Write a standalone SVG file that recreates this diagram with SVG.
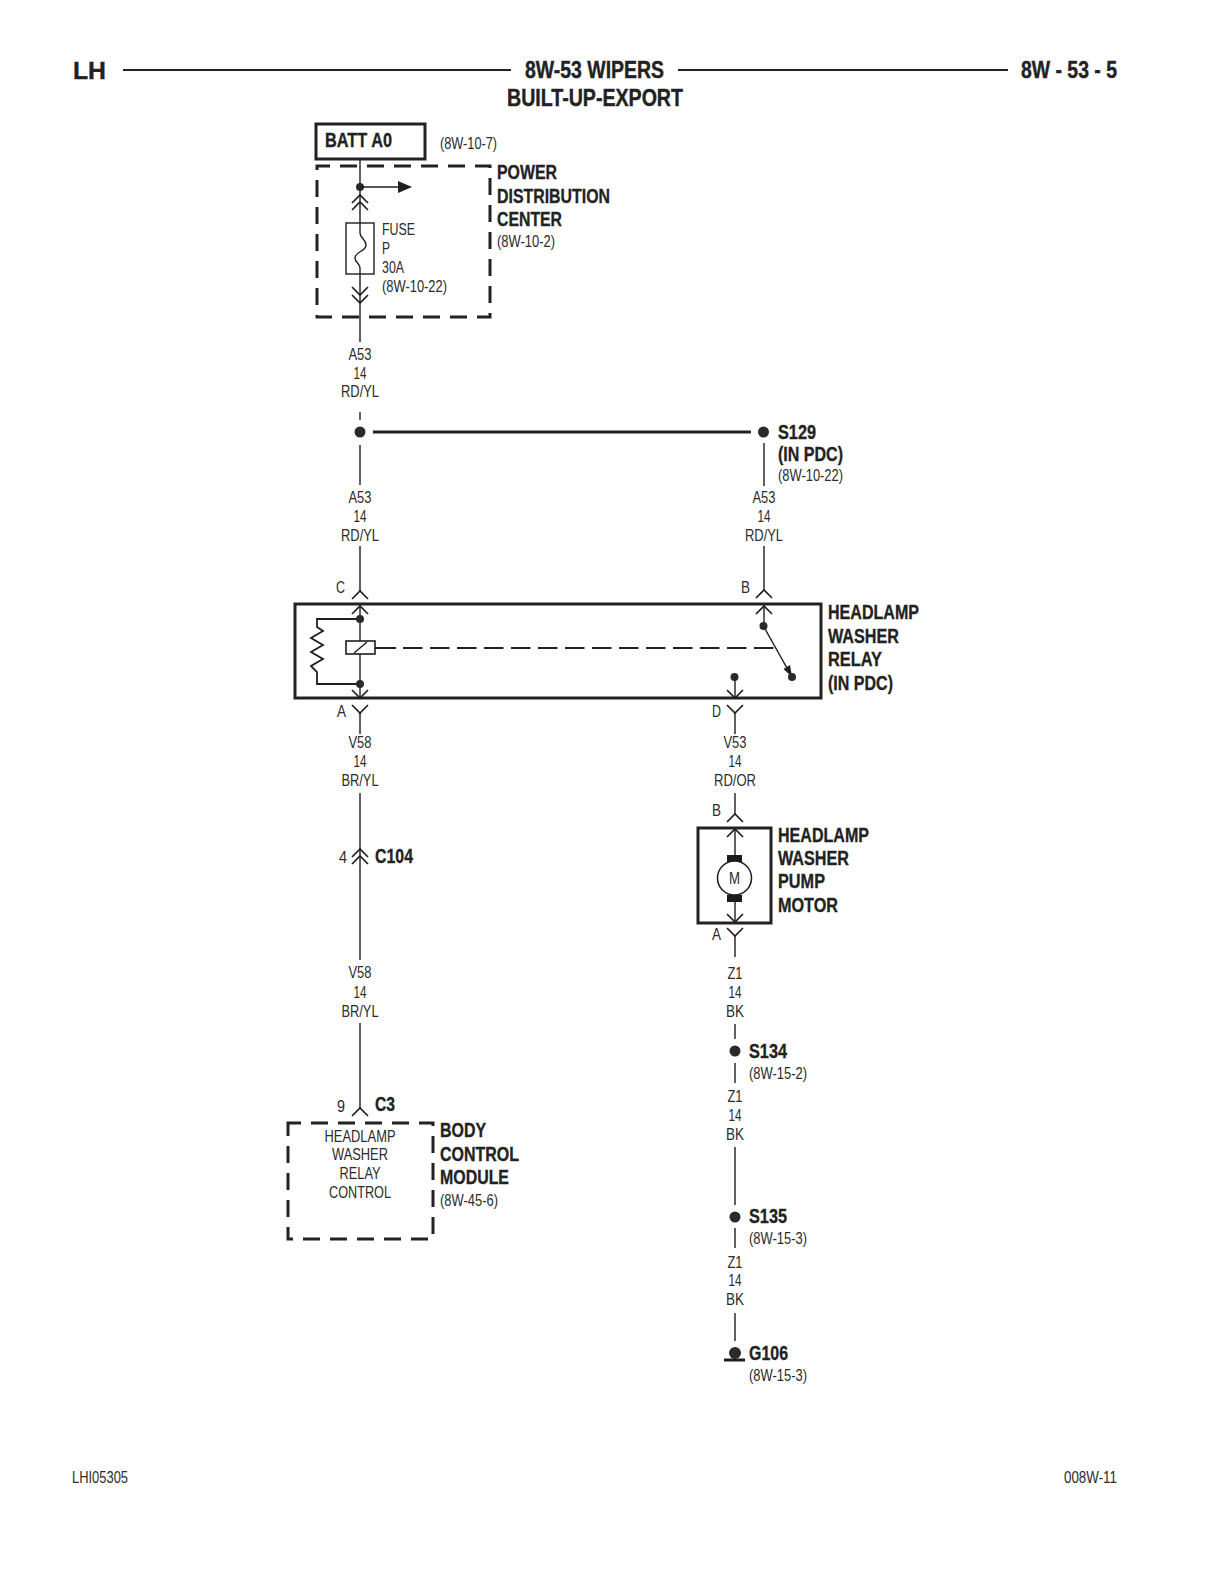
<svg xmlns="http://www.w3.org/2000/svg" xmlns:xlink="http://www.w3.org/1999/xlink" width="1224" height="1584" viewBox="0 0 1224 1584">
<style>
text{font-family:"Liberation Sans",Arial,sans-serif;fill:#262626}
.s{font-size:16.5px;font-weight:400;fill:#2b2b2b}
.c{font-size:16.5px;text-anchor:middle;fill:#2b2b2b}
.b{font-size:19.5px;font-weight:700;fill:#222;stroke:#222;stroke-width:.3}
.t{font-size:23.5px;font-weight:700;fill:#222;stroke:#222;stroke-width:.4}
.w{fill:none;stroke:#1e1e1e;stroke-width:1.4}
.box{fill:none;stroke:#222;stroke-width:3}
.dash{fill:none;stroke:#222;stroke-width:3;stroke-dasharray:17 10;stroke-dashoffset:4}
.dot{fill:#2a2a2a}
.ch{fill:none;stroke:#1e1e1e;stroke-width:1.7}
</style>
<defs>
<path id="up" class="ch" d="M-8 8L0 0L8 8"/>
<path id="dn" class="ch" d="M-8 -8L0 0L8 -8"/>
</defs>
<rect width="1224" height="1584" fill="#fff"/>

<g id="header">
<path d="M123 70H511M678 70H1008" stroke="#222" stroke-width="2" fill="none"/>
<text class="t" x="73" y="79" textLength="33" lengthAdjust="spacingAndGlyphs">LH</text>
<text class="t" x="525" y="78" textLength="139" lengthAdjust="spacingAndGlyphs">8W-53 WIPERS</text>
<text class="t" x="507" y="106" textLength="176" lengthAdjust="spacingAndGlyphs">BUILT-UP-EXPORT</text>
<text class="t" x="1021" y="78" textLength="96" lengthAdjust="spacingAndGlyphs">8W - 53 - 5</text>
</g>

<g id="connectors">
<path class="w" d="M360 159V342M360 412V420M360 445V485M360 546V591"/>
<path d="M373 432H751" stroke="#222" stroke-width="3" fill="none"/>
<path class="w" d="M764 443V486M764 546V590"/>
<path class="w" d="M360 713V734M360 793V960M360 1023V1108"/>
<path class="w" d="M735 713V734M735 793V814M735 936V957M735 1024V1039M735 1063V1083M735 1147V1205M735 1228V1248M735 1313V1341"/>
</g>

<g id="batt-a0">
<rect class="box" x="316" y="124" width="109" height="35"/>
<text class="b" x="325" y="147" textLength="67" lengthAdjust="spacingAndGlyphs">BATT A0</text>
<text class="s" x="440" y="149" textLength="57" lengthAdjust="spacingAndGlyphs">(8W-10-7)</text>
</g>

<g id="pdc">
<rect class="dash" x="317" y="166" width="173" height="151"/>
<circle class="dot" cx="360" cy="187" r="4"/>
<path class="w" d="M360 187H400"/>
<path d="M398 181L412 187L398 193Z" fill="#1e1e1e"/>
<use xlink:href="#up" href="#up" x="360" y="195"/>
<use xlink:href="#up" href="#up" x="360" y="202"/>
<rect x="346" y="223" width="28" height="51" fill="#fff" stroke="#1e1e1e" stroke-width="1.4"/>
<path class="w" d="M360 223V233C360 238 366 239 366 245C366 252 355 251 355 258C355 263 360 263 360 268V274"/>
<use xlink:href="#dn" href="#dn" x="360" y="295"/>
<use xlink:href="#dn" href="#dn" x="360" y="303"/>
<text class="s" x="382" y="235" textLength="33" lengthAdjust="spacingAndGlyphs">FUSE</text>
<text class="s" x="382" y="254" textLength="8" lengthAdjust="spacingAndGlyphs">P</text>
<text class="s" x="382" y="273" textLength="22" lengthAdjust="spacingAndGlyphs">30A</text>
<text class="s" x="382" y="292" textLength="65" lengthAdjust="spacingAndGlyphs">(8W-10-22)</text>
<text class="b" x="497" y="179" textLength="60" lengthAdjust="spacingAndGlyphs">POWER</text>
<text class="b" x="497" y="203" textLength="113" lengthAdjust="spacingAndGlyphs">DISTRIBUTION</text>
<text class="b" x="497" y="226" textLength="65" lengthAdjust="spacingAndGlyphs">CENTER</text>
<text class="s" x="497" y="247" textLength="58" lengthAdjust="spacingAndGlyphs">(8W-10-2)</text>
</g>

<g id="wire-labels">
<text class="c" x="360" y="360" textLength="23" lengthAdjust="spacingAndGlyphs">A53</text>
<text class="c" x="360" y="379" textLength="13" lengthAdjust="spacingAndGlyphs">14</text>
<text class="c" x="360" y="397" textLength="38" lengthAdjust="spacingAndGlyphs">RD/YL</text>
<text class="c" x="360" y="503" textLength="23" lengthAdjust="spacingAndGlyphs">A53</text>
<text class="c" x="360" y="522" textLength="13" lengthAdjust="spacingAndGlyphs">14</text>
<text class="c" x="360" y="541" textLength="38" lengthAdjust="spacingAndGlyphs">RD/YL</text>
<text class="c" x="764" y="503" textLength="23" lengthAdjust="spacingAndGlyphs">A53</text>
<text class="c" x="764" y="522" textLength="13" lengthAdjust="spacingAndGlyphs">14</text>
<text class="c" x="764" y="541" textLength="38" lengthAdjust="spacingAndGlyphs">RD/YL</text>
<text class="c" x="360" y="748" textLength="23" lengthAdjust="spacingAndGlyphs">V58</text>
<text class="c" x="360" y="767" textLength="13" lengthAdjust="spacingAndGlyphs">14</text>
<text class="c" x="360" y="786" textLength="37" lengthAdjust="spacingAndGlyphs">BR/YL</text>
<text class="c" x="360" y="978" textLength="23" lengthAdjust="spacingAndGlyphs">V58</text>
<text class="c" x="360" y="998" textLength="13" lengthAdjust="spacingAndGlyphs">14</text>
<text class="c" x="360" y="1017" textLength="37" lengthAdjust="spacingAndGlyphs">BR/YL</text>
<text class="c" x="735" y="748" textLength="23" lengthAdjust="spacingAndGlyphs">V53</text>
<text class="c" x="735" y="767" textLength="13" lengthAdjust="spacingAndGlyphs">14</text>
<text class="c" x="735" y="786" textLength="42" lengthAdjust="spacingAndGlyphs">RD/OR</text>
<text class="c" x="735" y="979" textLength="15" lengthAdjust="spacingAndGlyphs">Z1</text>
<text class="c" x="735" y="998" textLength="13" lengthAdjust="spacingAndGlyphs">14</text>
<text class="c" x="735" y="1017" textLength="18" lengthAdjust="spacingAndGlyphs">BK</text>
<text class="c" x="735" y="1102" textLength="15" lengthAdjust="spacingAndGlyphs">Z1</text>
<text class="c" x="735" y="1121" textLength="13" lengthAdjust="spacingAndGlyphs">14</text>
<text class="c" x="735" y="1140" textLength="18" lengthAdjust="spacingAndGlyphs">BK</text>
<text class="c" x="735" y="1268" textLength="15" lengthAdjust="spacingAndGlyphs">Z1</text>
<text class="c" x="735" y="1286" textLength="13" lengthAdjust="spacingAndGlyphs">14</text>
<text class="c" x="735" y="1305" textLength="18" lengthAdjust="spacingAndGlyphs">BK</text>
</g>

<g id="splice-left"><circle class="dot" cx="360" cy="432" r="5.5"/></g>

<g id="s129">
<circle class="dot" cx="763.5" cy="432" r="5.5"/>
<text class="b" x="778" y="439" textLength="38" lengthAdjust="spacingAndGlyphs">S129</text>
<text class="b" x="778" y="461" textLength="65" lengthAdjust="spacingAndGlyphs">(IN PDC)</text>
<text class="s" x="778" y="481" textLength="65" lengthAdjust="spacingAndGlyphs">(8W-10-22)</text>
</g>

<g id="relay">
<rect class="box" x="295" y="604" width="526" height="94"/>
<use xlink:href="#up" href="#up" x="360" y="591"/>
<use xlink:href="#up" href="#up" x="360" y="606"/>
<use xlink:href="#dn" href="#dn" x="360" y="698"/>
<use xlink:href="#dn" href="#dn" x="360" y="713"/>
<use xlink:href="#up" href="#up" x="764" y="590"/>
<use xlink:href="#up" href="#up" x="764" y="606"/>
<use xlink:href="#dn" href="#dn" x="735" y="698"/>
<use xlink:href="#dn" href="#dn" x="735" y="713"/>
<path class="w" d="M360 606V698"/>
<path d="M360 619H317V627L323 631L311 638L323 645L311 652L323 659L311 666L317 672V684H360" fill="none" stroke="#1e1e1e" stroke-width="1.8"/>
<circle class="dot" cx="360" cy="619" r="4"/>
<circle class="dot" cx="360" cy="684" r="4"/>
<rect x="346" y="641" width="29" height="13" fill="#fff" stroke="#1e1e1e" stroke-width="1.6"/>
<path class="w" d="M354 653L367 642"/>
<path d="M375 648H396" stroke="#222" stroke-width="2" fill="none"/>
<path d="M403 648H775" stroke="#222" stroke-width="2" fill="none" stroke-dasharray="19.5 7.5"/>
<path class="w" d="M764 606V627L792 677"/>
<path d="M783.5 669L790 665L792 677Z" fill="#1e1e1e"/>
<circle class="dot" cx="763.5" cy="626" r="4"/>
<circle class="dot" cx="792" cy="677" r="4"/>
<circle class="dot" cx="734.5" cy="677" r="4"/>
<path class="w" d="M735 677V698"/>
<text class="s" x="336" y="593" textLength="9" lengthAdjust="spacingAndGlyphs">C</text>
<text class="s" x="741" y="593" textLength="9" lengthAdjust="spacingAndGlyphs">B</text>
<text class="s" x="337" y="717" textLength="9" lengthAdjust="spacingAndGlyphs">A</text>
<text class="s" x="712" y="717" textLength="9" lengthAdjust="spacingAndGlyphs">D</text>
<text class="b" x="828" y="619" textLength="91" lengthAdjust="spacingAndGlyphs">HEADLAMP</text>
<text class="b" x="828" y="643" textLength="71" lengthAdjust="spacingAndGlyphs">WASHER</text>
<text class="b" x="828" y="666" textLength="54" lengthAdjust="spacingAndGlyphs">RELAY</text>
<text class="b" x="828" y="690" textLength="65" lengthAdjust="spacingAndGlyphs">(IN PDC)</text>
</g>

<g id="c104">
<use xlink:href="#up" href="#up" x="360" y="849"/>
<use xlink:href="#up" href="#up" x="360" y="856"/>
<text class="s" x="339" y="863" textLength="8" lengthAdjust="spacingAndGlyphs">4</text>
<text class="b" x="375" y="863" textLength="38" lengthAdjust="spacingAndGlyphs">C104</text>
</g>

<g id="bcm">
<use xlink:href="#up" href="#up" x="360" y="1108"/>
<text class="s" x="337" y="1112" textLength="8" lengthAdjust="spacingAndGlyphs">9</text>
<text class="b" x="375" y="1111" textLength="20" lengthAdjust="spacingAndGlyphs">C3</text>
<rect class="dash" x="288" y="1123" width="145" height="116"/>
<text class="c" x="360" y="1142" textLength="71" lengthAdjust="spacingAndGlyphs">HEADLAMP</text>
<text class="c" x="360" y="1160" textLength="56" lengthAdjust="spacingAndGlyphs">WASHER</text>
<text class="c" x="360" y="1179" textLength="41" lengthAdjust="spacingAndGlyphs">RELAY</text>
<text class="c" x="360" y="1198" textLength="62" lengthAdjust="spacingAndGlyphs">CONTROL</text>
<text class="b" x="440" y="1137" textLength="46" lengthAdjust="spacingAndGlyphs">BODY</text>
<text class="b" x="440" y="1161" textLength="79" lengthAdjust="spacingAndGlyphs">CONTROL</text>
<text class="b" x="440" y="1184" textLength="69" lengthAdjust="spacingAndGlyphs">MODULE</text>
<text class="s" x="440" y="1206" textLength="58" lengthAdjust="spacingAndGlyphs">(8W-45-6)</text>
</g>

<g id="motor">
<use xlink:href="#up" href="#up" x="735" y="814"/>
<use xlink:href="#up" href="#up" x="735" y="829"/>
<use xlink:href="#dn" href="#dn" x="735" y="922"/>
<use xlink:href="#dn" href="#dn" x="735" y="936"/>
<rect class="box" x="698" y="828" width="73" height="95"/>
<path class="w" d="M735 829V922"/>
<rect x="727" y="855" width="15" height="7" fill="#1a1a1a"/>
<rect x="727" y="895" width="15" height="7" fill="#1a1a1a"/>
<circle cx="734.5" cy="878" r="17" fill="#fff" stroke="#1e1e1e" stroke-width="1.5"/>
<text class="c" x="734.5" y="884" textLength="11" lengthAdjust="spacingAndGlyphs">M</text>
<text class="s" x="712" y="816" textLength="9" lengthAdjust="spacingAndGlyphs">B</text>
<text class="s" x="712" y="940" textLength="9" lengthAdjust="spacingAndGlyphs">A</text>
<text class="b" x="778" y="842" textLength="91" lengthAdjust="spacingAndGlyphs">HEADLAMP</text>
<text class="b" x="778" y="865" textLength="71" lengthAdjust="spacingAndGlyphs">WASHER</text>
<text class="b" x="778" y="888" textLength="47" lengthAdjust="spacingAndGlyphs">PUMP</text>
<text class="b" x="778" y="912" textLength="60" lengthAdjust="spacingAndGlyphs">MOTOR</text>
</g>

<g id="s134">
<circle class="dot" cx="735" cy="1051" r="5.5"/>
<text class="b" x="749" y="1058" textLength="38" lengthAdjust="spacingAndGlyphs">S134</text>
<text class="s" x="749" y="1079" textLength="58" lengthAdjust="spacingAndGlyphs">(8W-15-2)</text>
</g>
<g id="s135">
<circle class="dot" cx="735" cy="1217" r="5.5"/>
<text class="b" x="749" y="1223" textLength="38" lengthAdjust="spacingAndGlyphs">S135</text>
<text class="s" x="749" y="1244" textLength="58" lengthAdjust="spacingAndGlyphs">(8W-15-3)</text>
</g>
<g id="g106">
<circle class="dot" cx="735" cy="1353" r="6"/>
<path d="M724 1360H745" stroke="#1e1e1e" stroke-width="3" fill="none"/>
<text class="b" x="749" y="1360" textLength="39" lengthAdjust="spacingAndGlyphs">G106</text>
<text class="s" x="749" y="1381" textLength="58" lengthAdjust="spacingAndGlyphs">(8W-15-3)</text>
</g>

<g id="footer">
<text class="s" x="72" y="1483" textLength="56" lengthAdjust="spacingAndGlyphs">LHI05305</text>
<text class="s" x="1064" y="1483" textLength="53" lengthAdjust="spacingAndGlyphs">008W-11</text>
</g>
</svg>
